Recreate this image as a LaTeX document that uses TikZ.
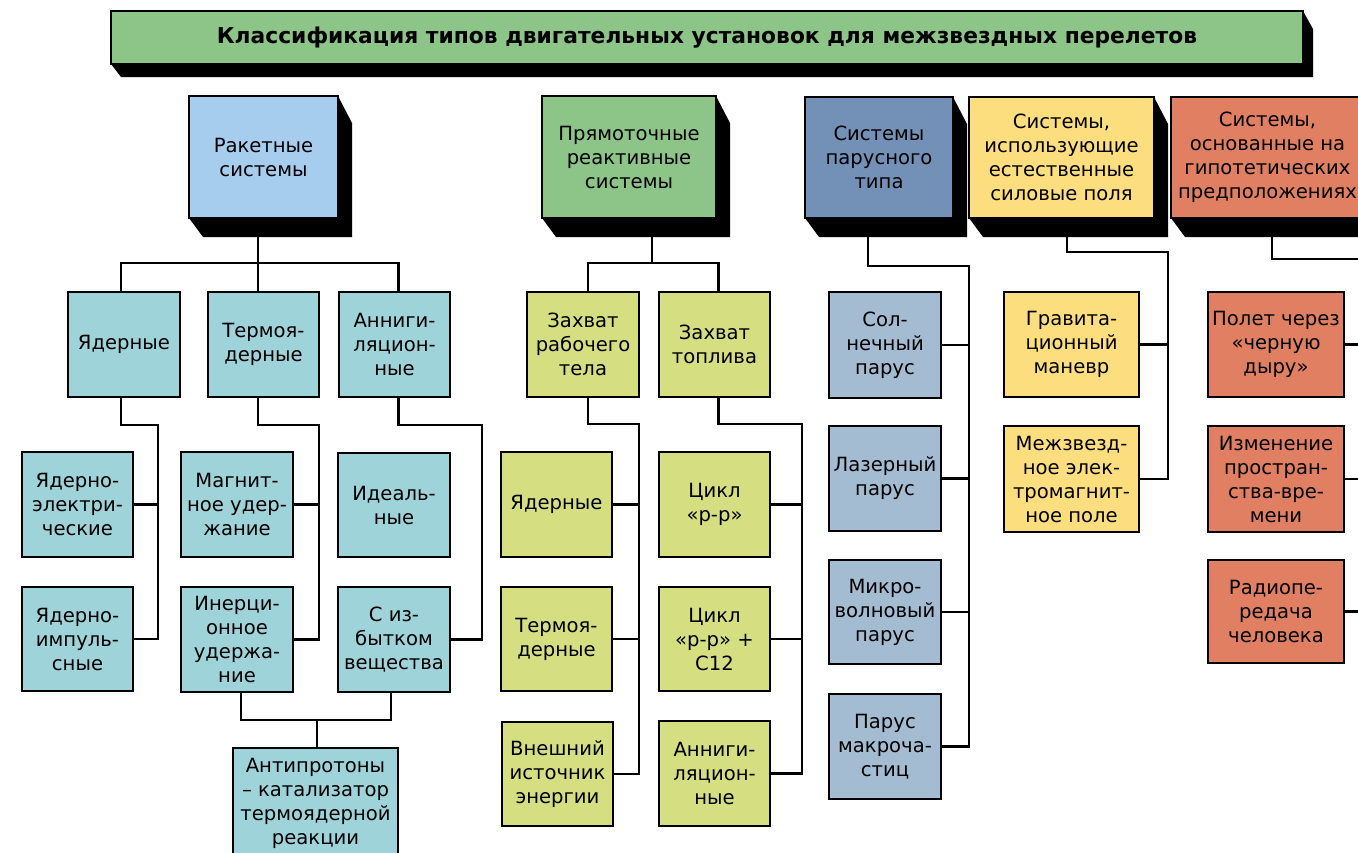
\documentclass[tikz,border=0pt]{standalone}
\usepackage{fontspec}
\setmainfont{DejaVu Sans}
\usetikzlibrary{backgrounds}
\definecolor{cTitle}{HTML}{8DC487}
\definecolor{cRak}{HTML}{A7CDEE}
\definecolor{cSail}{HTML}{7391B7}
\definecolor{cField}{HTML}{FDDE7E}
\definecolor{cHyp}{HTML}{E07F62}
\definecolor{cTeal}{HTML}{9FD3DA}
\definecolor{cLime}{HTML}{D5DF82}
\definecolor{cSailSub}{HTML}{A4BCD2}
\tikzset{
  box/.style={draw=black, line width=2.8pt, inner sep=0pt, outer sep=0pt, align=center,
    font=\fontsize{19.6}{24}\selectfont},
  titlebox/.style={box, fill=cTitle, font=\fontsize{21.8}{26}\selectfont\bfseries},
  conn/.style={draw=black, line width=2.5pt},
}
\newcommand\bx[7]{\node[box,#6, minimum width={#4-#2}, minimum height={#5-#3}] (#1) at ({(#2+#4)/2},{(#3+#5)/2}) {#7};}
\newcommand\mkshadow[4]{\begin{scope}[on background layer]
 \fill[black] (#1.south west) -- ([shift={(#2,#3)}]#1.south west) -- ([shift={(#2,#3)}]#1.south east)
   -- ([shift={(#2,#4)}]#1.north east) -- (#1.north east) -- cycle;\end{scope}}
\begin{document}
\begin{tikzpicture}[x=1pt,y=-1pt]
\useasboundingbox (0,0) rectangle (1358,852);
% title
\node[titlebox, minimum width=1192, minimum height=53] (title) at (707,37.5)
  {Классификация типов двигательных установок для межзвездных перелетов};
\mkshadow{title}{10}{13}{18}
% top level
\bx{rak}{189}{96}{338}{218}{fill=cRak}{Ракетные\\системы}
\bx{pr}{542}{96}{716}{218}{fill=cTitle}{Прямоточные\\реактивные\\системы}
\bx{par}{805}{97}{953}{218}{fill=cSail}{Системы\\парусного\\типа}
\bx{pol}{969}{97}{1154}{218}{fill=cField}{Системы,\\использующие\\естественные\\силовые поля}
\bx{gip}{1171}{97}{1364}{218}{fill=cHyp}{Системы,\\основанные на\\гипотетических\\предположениях}
\mkshadow{rak}{14}{19}{27}
\mkshadow{pr}{14}{19}{27}
\mkshadow{par}{14}{19}{27}
\mkshadow{pol}{14}{19}{27}
\mkshadow{gip}{14}{19}{27}
% rocket
\bx{yad}{68}{292}{180}{397}{fill=cTeal}{Ядерные}
\bx{term}{208}{292}{319}{397}{fill=cTeal}{Термоя-\\дерные}
\bx{ann}{339}{292}{450}{397}{fill=cTeal}{Анниги-\\ляцион-\\ные}
\bx{ye}{22}{452}{133}{557}{fill=cTeal}{Ядерно-\\электри-\\ческие}
\bx{yi}{22}{587}{133}{691}{fill=cTeal}{Ядерно-\\импуль-\\сные}
\bx{mag}{181}{452}{293}{557}{fill=cTeal}{Магнит-\\ное удер-\\жание}
\bx{ine}{181}{587}{293}{692}{fill=cTeal}{Инерци-\\онное\\удержа-\\ние}
\bx{ide}{338}{453}{450}{557}{fill=cTeal}{Идеаль-\\ные}
\bx{izb}{338}{587}{450}{692}{fill=cTeal}{С из-\\бытком\\вещества}
\bx{anti}{233}{748}{398}{858}{fill=cTeal}{Антипротоны\\– катализатор\\термоядерной\\реакции}
% ramjet
\bx{zr}{527}{292}{639}{397}{fill=cLime}{Захват\\рабочего\\тела}
\bx{zt}{659}{292}{770}{397}{fill=cLime}{Захват\\топлива}
\bx{ry}{501}{452}{612}{557}{fill=cLime}{Ядерные}
\bx{rt}{501}{587}{612}{691}{fill=cLime}{Термоя-\\дерные}
\bx{rv}{502}{722}{613}{826}{fill=cLime}{Внешний\\источник\\энергии}
\bx{cpp}{659}{452}{770}{557}{fill=cLime}{Цикл\\«p-p»}
\bx{cpc}{659}{587}{770}{691}{fill=cLime}{Цикл\\«p-p» +\\С12}
\bx{ran}{659}{721}{770}{826}{fill=cLime}{Анниги-\\ляцион-\\ные}
% sail
\bx{sol}{829}{292}{941}{398}{fill=cSailSub}{Сол-\\нечный\\парус}
\bx{las}{829}{426}{941}{531}{fill=cSailSub}{Лазерный\\парус}
\bx{mic}{829}{560}{941}{664}{fill=cSailSub}{Микро-\\волновый\\парус}
\bx{mak}{829}{694}{941}{799}{fill=cSailSub}{Парус\\макроча-\\стиц}
% fields
\bx{grav}{1004}{292}{1139}{397}{fill=cField}{Гравита-\\ционный\\маневр}
\bx{mez}{1004}{426}{1139}{532}{fill=cField}{Межзвезд-\\ное элек-\\тромагнит-\\ное поле}
% hypothetical
\bx{bh}{1208}{292}{1344}{397}{fill=cHyp}{Полет через\\«черную\\дыру»}
\bx{izm}{1208}{426}{1344}{532}{fill=cHyp}{Изменение\\простран-\\ства-вре-\\мени}
\bx{rad}{1208}{560}{1344}{663}{fill=cHyp}{Радиопе-\\редача\\человека}

% ---- connectors: rocket
\coordinate (rkbar) at (258,263);
\draw[conn] ([xshift=-3pt]yad.north) |- (rkbar) -| ([xshift=4pt]ann.north);
\draw[conn] (rak.south -| rkbar) -- (term.north -| rkbar);
\coordinate (ybus) at (158,425);
\draw[conn] ([xshift=-3pt]yad.south) |- (ybus) -- (yi.east -| ybus) -- (yi.east);
\draw[conn] (ye.east) -- (ye.east -| ybus);
\coordinate (tbus) at (319,425);
\draw[conn] (term.south -| rkbar) |- (tbus) -- (ine.east -| tbus) -- (ine.east);
\draw[conn] (mag.east) -- (mag.east -| tbus);
\coordinate (abus) at (482,425);
\draw[conn] ([xshift=4pt]ann.south) |- (abus) -- (izb.east -| abus) -- (izb.east);
\coordinate (apbar) at (317,720);
\draw[conn] ([xshift=4pt]ine.south) |- (apbar) -| ([xshift=-3pt]izb.south);
\draw[conn] (apbar) -- (anti.north -| apbar);
% ramjet
\coordinate (prbar) at (652,263);
\draw[conn] ([xshift=5pt]zr.north) |- (prbar) -| ([xshift=4pt]zt.north);
\draw[conn] (pr.south -| prbar) -- (prbar);
\coordinate (zrbus) at (639,424);
\draw[conn] ([xshift=5pt]zr.south) |- (zrbus) -- (rv.east -| zrbus) -- (rv.east);
\draw[conn] (ry.east) -- (ry.east -| zrbus);
\draw[conn] (rt.east) -- (rt.east -| zrbus);
\coordinate (ztbus) at (802,424);
\draw[conn] ([xshift=4pt]zt.south) |- (ztbus) -- (ran.east -| ztbus) -- (ran.east);
\draw[conn] (cpp.east) -- (cpp.east -| ztbus);
\draw[conn] (cpc.east) -- (cpc.east -| ztbus);
% sail
\coordinate (phub) at (868,266);
\coordinate (pbus) at (969,266);
\draw[conn] (par.south -| phub) -- (phub) -- (pbus) -- (mak.east -| pbus) -- (mak.east);
\draw[conn] (sol.east) -- (sol.east -| pbus);
\draw[conn] (las.east) -- (las.east -| pbus);
\draw[conn] (mic.east) -- (mic.east -| pbus);
% fields
\coordinate (fhub) at (1067,252);
\coordinate (fbus) at (1168,252);
\draw[conn] (pol.south -| fhub) -- (fhub) -- (fbus) -- (mez.east -| fbus) -- (mez.east);
\draw[conn] (grav.east) -- (grav.east -| fbus);
% hypothetical
\coordinate (ghub) at (1272,259);
\coordinate (gout) at (1372,259);
\draw[conn] (gip.south -| ghub) -- (ghub) -- (gout);
\draw[conn] (bh.east) -- (bh.east -| gout);
\draw[conn] (izm.east) -- (izm.east -| gout);
\draw[conn] (rad.east) -- (rad.east -| gout);
\end{tikzpicture}
\end{document}
